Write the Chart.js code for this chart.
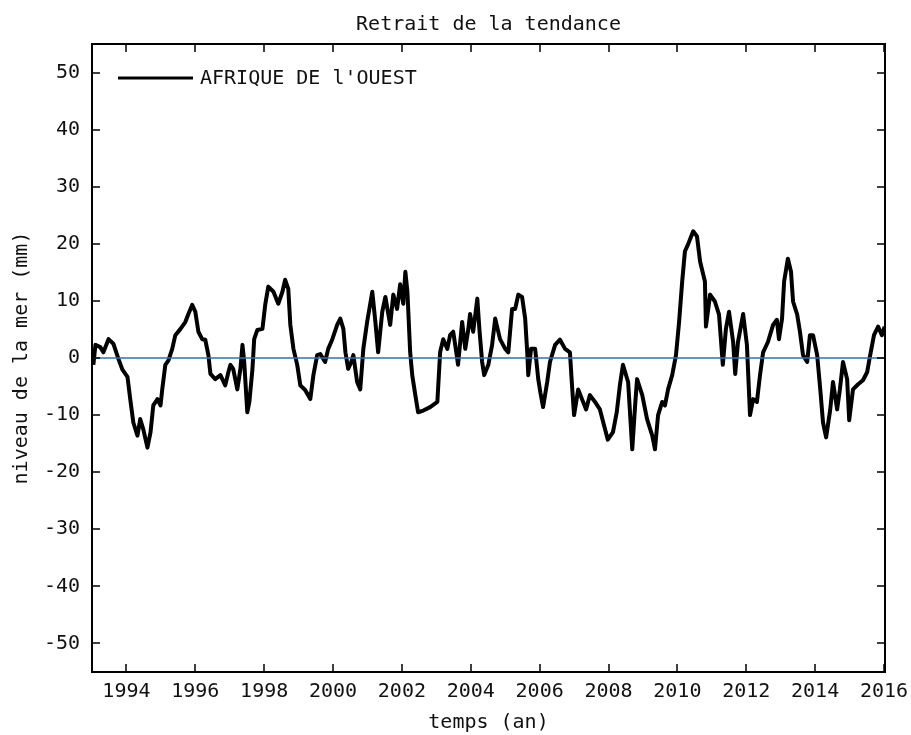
<!DOCTYPE html>
<html>
<head>
<meta charset="utf-8">
<script src="https://cdn.jsdelivr.net/npm/chart.js@4.4.0/dist/chart.umd.min.js"></script>
<style>
  html, body { margin: 0; padding: 0; background: #fff; }
  #wrap { width: 911px; height: 735px; }
</style>
</head>
<body>
<div id="wrap"><canvas id="seaChart" width="911" height="735"></canvas></div>
<script>
// detrended sea level anomaly, West Africa (mm)
const years = [
  1993.04, 1993.10, 1993.24, 1993.33, 1993.48, 1993.62, 1993.77, 1993.88,
  1994.03, 1994.11, 1994.20, 1994.32, 1994.40, 1994.49, 1994.61, 1994.70, 1994.78, 1994.90, 1994.99,
  1995.04, 1995.13, 1995.22, 1995.33, 1995.42, 1995.57, 1995.71, 1995.80, 1995.91,
  1996.00, 1996.09, 1996.20, 1996.29, 1996.38, 1996.44, 1996.58, 1996.73, 1996.87, 1996.96,
  1997.02, 1997.10, 1997.22, 1997.31, 1997.37, 1997.42, 1997.51, 1997.57, 1997.66, 1997.71, 1997.80, 1997.95,
  1998.03, 1998.12, 1998.27, 1998.41, 1998.53, 1998.61, 1998.70, 1998.76, 1998.85, 1998.96,
  1999.05, 1999.19, 1999.34, 1999.43, 1999.54, 1999.63, 1999.77, 1999.86, 1999.98,
  2000.12, 2000.21, 2000.30, 2000.36, 2000.44, 2000.53, 2000.59, 2000.70, 2000.79, 2000.88, 2000.99,
  2001.14, 2001.23, 2001.31, 2001.43, 2001.52, 2001.66, 2001.75, 2001.86, 2001.95,
  2002.04, 2002.10, 2002.16, 2002.24, 2002.30, 2002.39, 2002.47, 2002.62, 2002.82,
  2003.03, 2003.11, 2003.20, 2003.32, 2003.40, 2003.49, 2003.58, 2003.63, 2003.75, 2003.84, 2003.93, 2003.98,
  2004.07, 2004.19, 2004.25, 2004.33, 2004.39, 2004.51, 2004.62, 2004.71, 2004.85,
  2005.00, 2005.09, 2005.20, 2005.29, 2005.38, 2005.49, 2005.58, 2005.64, 2005.67, 2005.75, 2005.87, 2005.96,
  2006.02, 2006.10, 2006.22, 2006.30, 2006.45, 2006.59, 2006.74, 2006.88, 2006.94,
  2007.00, 2007.12, 2007.23, 2007.35, 2007.46, 2007.61, 2007.75, 2007.90, 2007.98,
  2008.13, 2008.24, 2008.33, 2008.42, 2008.57, 2008.69, 2008.78, 2008.83, 2008.98,
  2009.12, 2009.27, 2009.35, 2009.44, 2009.56, 2009.64, 2009.73, 2009.85, 2009.96,
  2010.05, 2010.14, 2010.22, 2010.31, 2010.46, 2010.57, 2010.66, 2010.80, 2010.83, 2010.95,
  2011.09, 2011.21, 2011.32, 2011.41, 2011.50, 2011.62, 2011.68, 2011.76, 2011.91,
  2012.02, 2012.11, 2012.20, 2012.31, 2012.40, 2012.49, 2012.63, 2012.78, 2012.89, 2012.95,
  2013.04, 2013.10, 2013.21, 2013.30, 2013.36, 2013.48, 2013.56, 2013.65, 2013.77, 2013.85, 2013.94,
  2014.06, 2014.15, 2014.23, 2014.32, 2014.44, 2014.52, 2014.64, 2014.72, 2014.81, 2014.93, 2014.99,
  2015.10, 2015.25, 2015.39, 2015.51, 2015.60, 2015.71, 2015.83, 2015.94, 2016.02
];
const levels = [
  -1.2, 2.3, 1.9, 1.0, 3.3, 2.5, -0.2, -2.0,
  -3.3, -7.2, -11.3, -13.6, -10.7, -12.5, -15.7, -13.0, -8.3, -7.2, -8.3,
  -5.5, -1.2, -0.4, 1.6, 4.0, 5.1, 6.3, 7.7, 9.3,
  8.1, 4.6, 3.3, 3.2, 0.5, -2.8, -3.7, -3.0, -4.8, -2.5,
  -1.2, -1.9, -5.5, -1.9, 2.3, -0.7, -9.5, -7.7, -1.9, 3.3, 4.9, 5.1,
  9.3, 12.5, 11.6, 9.5, 11.6, 13.7, 12.1, 5.8, 1.6, -1.2,
  -4.8, -5.6, -7.2, -3.0, 0.5, 0.7, -0.7, 1.6, 3.3,
  5.8, 6.9, 5.1, 1.0, -1.9, -0.7, 0.5, -4.2, -5.5, 1.6, 6.3,
  11.6, 6.3, 1.0, 8.1, 10.7, 5.8, 11.1, 8.6, 12.9,
  9.5, 15.1, 11.6, 1.0, -3.0, -6.5, -9.5, -9.2, -8.6,
  -7.7, 1.0, 3.3, 1.6, 4.0, 4.6, 1.0, -1.2, 6.3, 1.6, 5.1, 7.7,
  4.6, 10.4, 5.1, -0.7, -3.0, -1.2, 2.3, 6.9, 3.3,
  1.6, 1.0, 8.6, 8.6, 11.1, 10.7, 6.9, 1.0, -3.0, 1.6, 1.6, -3.7,
  -6.0, -8.6, -4.2, -0.7, 2.3, 3.2, 1.6, 1.0, -4.8,
  -10.0, -5.5, -7.2, -9.0, -6.5, -7.7, -9.0, -12.5, -14.3,
  -13.0, -9.5, -4.8, -1.2, -4.2, -16.0, -7.7, -3.7, -6.5,
  -10.7, -13.6, -16.0, -10.0, -7.7, -8.3, -5.5, -3.0, 0.5,
  6.3, 13.4, 18.7, 19.9, 22.2, 21.3, 16.9, 13.4, 5.5, 11.1,
  9.9, 7.6, -1.2, 5.1, 8.1, 2.8, -2.8, 2.8, 7.7,
  2.3, -10.0, -7.2, -7.7, -3.0, 1.0, 2.8, 5.8, 6.7, 3.3,
  6.9, 13.4, 17.4, 15.1, 9.9, 7.6, 4.6, 0.5, -0.7, 4.0, 4.0,
  0.5, -5.5, -11.3, -13.9, -9.0, -4.2, -9.0, -5.5, -0.7, -3.7, -10.9,
  -5.5, -4.6, -3.9, -2.5, 0.5, 4.0, 5.5, 4.0, 5.5
];
const xTicks = [1994, 1996, 1998, 2000, 2002, 2004, 2006, 2008, 2010, 2012, 2014, 2016];
const yTicks = [-50, -40, -30, -20, -10, 0, 10, 20, 30, 40, 50];
const xRange = [1993, 2016.03];
const yRange = [-55, 55];

const chartTitle = 'Retrait de la tendance';
const seriesName = "AFRIQUE DE l'OUEST";
const xTitle = 'temps (an)';
const yTitle = 'niveau de la mer (mm)';

const monoFont = '"DejaVu Sans Mono", monospace';
const textColor = '#111';
const labelFont = { family: monoFont, size: 20, lineHeight: 1.2 };

// axes box, inward ticks, title and in-plot legend
const framePlugin = {
  id: 'frame',
  afterDatasetsDraw(chart) {
    const { ctx, chartArea: a, scales: { x, y } } = chart;
    const tick = 8;
    ctx.save();
    ctx.strokeStyle = '#000';
    ctx.lineWidth = 2;
    ctx.strokeRect(a.left, a.top, a.right - a.left, a.bottom - a.top);
    ctx.lineWidth = 1.5;
    ctx.beginPath();
    xTicks.forEach(v => {
      const px = Math.round(x.getPixelForValue(v));
      ctx.moveTo(px, a.bottom); ctx.lineTo(px, a.bottom - tick);
      ctx.moveTo(px, a.top); ctx.lineTo(px, a.top + tick);
    });
    yTicks.forEach(v => {
      const py = Math.round(y.getPixelForValue(v));
      ctx.moveTo(a.left, py); ctx.lineTo(a.left + tick, py);
      ctx.moveTo(a.right, py); ctx.lineTo(a.right - tick, py);
    });
    ctx.stroke();

    // legend entry
    const ly = a.top + 34;
    ctx.strokeStyle = '#000';
    ctx.lineWidth = 3;
    ctx.beginPath();
    ctx.moveTo(a.left + 26, ly);
    ctx.lineTo(a.left + 101, ly);
    ctx.stroke();
    ctx.fillStyle = textColor;
    ctx.font = '20px ' + monoFont;
    ctx.textBaseline = 'middle';
    ctx.textAlign = 'left';
    ctx.fillText(seriesName, a.left + 108, ly + 1);

    // chart title
    ctx.textAlign = 'center';
    ctx.fillText(chartTitle, (a.left + a.right) / 2, 25);
    ctx.restore();
  }
};

const points = years.map((yr, i) => ({ x: yr, y: levels[i] }));
const zeroLine = [{ x: xRange[0], y: 0 }, { x: xRange[1], y: 0 }];

new Chart(document.getElementById('seaChart'), {
  type: 'line',
  data: {
    datasets: [
      {
        label: 'zero',
        data: zeroLine,
        borderColor: '#2f6fbf',
        borderWidth: 1.5,
        pointRadius: 0,
        order: 0
      },
      {
        label: seriesName,
        data: points,
        borderColor: '#000',
        borderWidth: 4,
        borderJoinStyle: 'round',
        pointRadius: 0,
        tension: 0,
        order: 1
      }
    ]
  },
  options: {
    responsive: false,
    devicePixelRatio: 1,
    animation: false,
    layout: { padding: { left: 10, top: 44, right: 26, bottom: 0 } },
    plugins: {
      legend: { display: false },
      tooltip: { enabled: false },
      title: { display: false }
    },
    scales: {
      x: {
        type: 'linear',
        min: xRange[0],
        max: xRange[1],
        grid: { display: false, drawTicks: false },
        border: { display: false },
        afterBuildTicks: s => { s.ticks = xTicks.map(v => ({ value: v })); },
        afterFit: s => { s.height = 63; s.paddingRight = 0; s.paddingLeft = 0; },
        ticks: {
          autoSkip: false,
          maxRotation: 0,
          padding: 8,
          color: textColor,
          font: labelFont,
          callback: v => String(v)
        },
        title: { display: true, text: xTitle, color: textColor, font: labelFont, padding: 0 }
      },
      y: {
        min: yRange[0],
        max: yRange[1],
        grid: { display: false, drawTicks: false },
        border: { display: false },
        afterBuildTicks: s => { s.ticks = yTicks.map(v => ({ value: v })); },
        afterFit: s => { s.width = 82; s.paddingTop = 0; s.paddingBottom = 0; },
        ticks: {
          autoSkip: false,
          padding: 12,
          color: textColor,
          font: labelFont,
          callback: v => String(v)
        },
        title: { display: true, text: yTitle, color: textColor, font: labelFont, padding: 0 }
      }
    }
  },
  plugins: [framePlugin]
});
</script>
</body>
</html>
